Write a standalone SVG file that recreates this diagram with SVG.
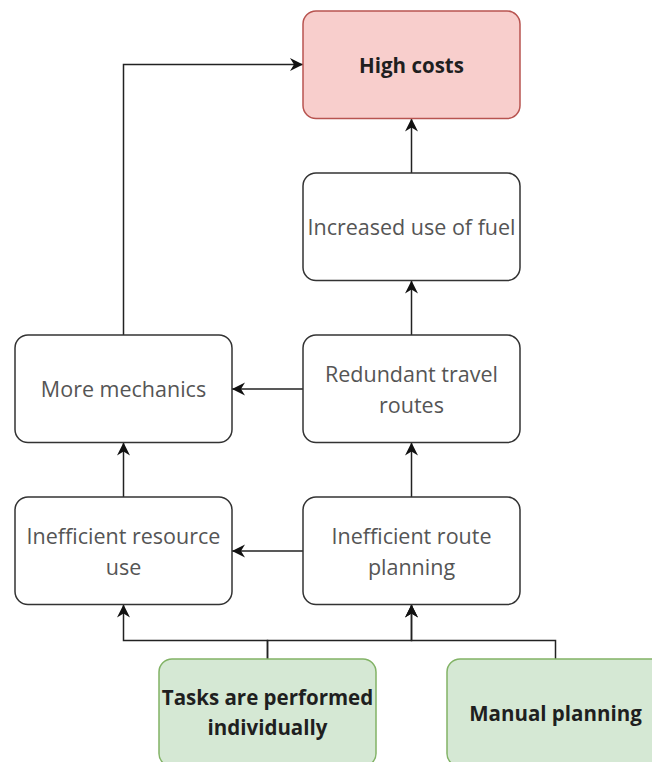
<svg xmlns="http://www.w3.org/2000/svg" width="652" height="762" viewBox="0 0 652 762">
  <style>
    .box { fill: #ffffff; stroke: #333333; stroke-width: 1.5; }
    .red { fill: #f8cecc; stroke: #b85450; stroke-width: 1.5; }
    .green { fill: #d5e8d4; stroke: #82b366; stroke-width: 1.5; }
    .lbl { font-family: "Open Sans", "Noto Sans", "DejaVu Sans", sans-serif; font-size: 21.5px; fill: #555555; text-anchor: middle; dominant-baseline: central; }
    .bold { font-weight: bold; font-size: 20.5px; fill: #1f1f1f; }
    .edge { fill: none; stroke: #222222; stroke-width: 1.5; }
  </style>
  <defs>
    <marker id="arrow" markerUnits="userSpaceOnUse" markerWidth="15" markerHeight="14" refX="13" refY="7" orient="auto">
      <path d="M0,0.5 L13,7 L0,13.5 L4,7 Z" fill="#111111"/>
    </marker>
  </defs>

  <rect width="652" height="762" fill="#ffffff"/>

  <g id="connectors">
    <path class="edge" d="M123.5,335 V64.5 H303" marker-end="url(#arrow)"/>
    <path class="edge" d="M411.5,173 V118.5" marker-end="url(#arrow)"/>
    <path class="edge" d="M411.5,335 V280.5" marker-end="url(#arrow)"/>
    <path class="edge" d="M303,389 H232" marker-end="url(#arrow)"/>
    <path class="edge" d="M303,551 H232" marker-end="url(#arrow)"/>
    <path class="edge" d="M123.5,497 V442.5" marker-end="url(#arrow)"/>
    <path class="edge" d="M411.5,497 V442.5" marker-end="url(#arrow)"/>
    <path class="edge" d="M267.5,659 V640.5 H123.5 V604.5" marker-end="url(#arrow)"/>
    <path class="edge" d="M267.5,659 V640.5 H411.5 V604.5" marker-end="url(#arrow)"/>
    <path class="edge" d="M555.5,659 V640.5 H411.5 V604.5" marker-end="url(#arrow)"/>
  </g>

  <g id="high-costs">
    <rect class="red" x="303" y="11" width="217" height="107.5" rx="13"/>
    <text class="lbl bold" x="411.5" y="64.5">High costs</text>
  </g>

  <g id="increased-fuel">
    <rect class="box" x="303" y="173" width="217" height="107.5" rx="13"/>
    <text class="lbl" x="411.5" y="226.5">Increased use of fuel</text>
  </g>

  <g id="more-mechanics">
    <rect class="box" x="15" y="335" width="217" height="107.5" rx="13"/>
    <text class="lbl" x="123.5" y="388.5">More mechanics</text>
  </g>

  <g id="redundant-routes">
    <rect class="box" x="303" y="335" width="217" height="107.5" rx="13"/>
    <text class="lbl" x="411.5" y="373">Redundant travel</text>
    <text class="lbl" x="411.5" y="404.5">routes</text>
  </g>

  <g id="inefficient-resource">
    <rect class="box" x="15" y="497" width="217" height="107.5" rx="13"/>
    <text class="lbl" x="123.5" y="535">Inefficient resource</text>
    <text class="lbl" x="123.5" y="566.5">use</text>
  </g>

  <g id="inefficient-route">
    <rect class="box" x="303" y="497" width="217" height="107.5" rx="13"/>
    <text class="lbl" x="411.5" y="535">Inefficient route</text>
    <text class="lbl" x="411.5" y="566.5">planning</text>
  </g>

  <g id="tasks-individual">
    <rect class="green" x="159" y="659" width="217" height="107.5" rx="13"/>
    <text class="lbl bold" x="267.5" y="697">Tasks are performed</text>
    <text class="lbl bold" x="267.5" y="727">individually</text>
  </g>

  <g id="manual-planning">
    <rect class="green" x="447" y="659" width="217" height="107.5" rx="13"/>
    <text class="lbl bold" x="555.5" y="712.5">Manual planning</text>
  </g>
</svg>
